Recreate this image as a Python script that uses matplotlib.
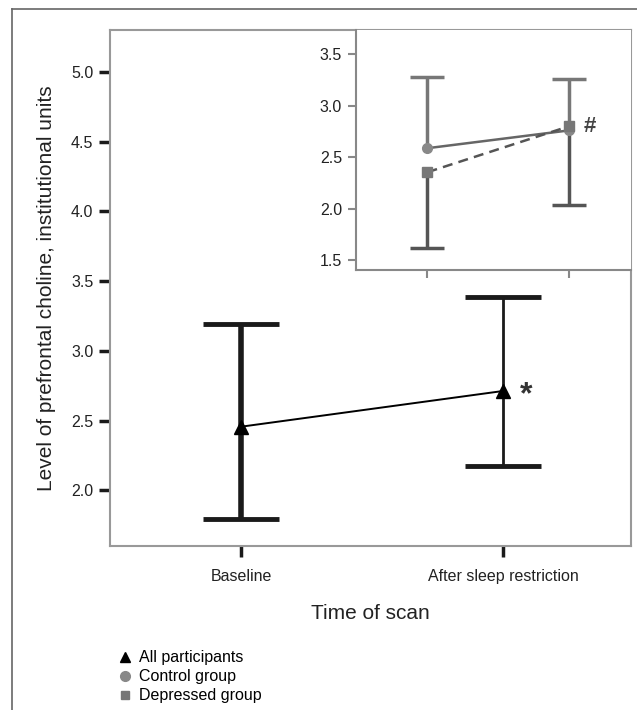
import numpy as np
import matplotlib.pyplot as plt
from matplotlib.lines import Line2D

plt.rcParams['font.family'] = ['Liberation Sans', 'DejaVu Sans']

# Datos
momentos = ["Baseline", "After sleep restriction"]
todos_media = [2.456, 2.712]
todos_inf = [1.796, 2.172]
todos_sup = [3.19, 3.386]

control_media = [2.587, 2.760]
control_sup = [3.275, 3.260]
depr_media = [2.354, 2.800]
depr_inf = [1.620, 2.035]

yticks_main = [2.0, 2.5, 3.0, 3.5, 4.0, 4.5, 5.0]
yticks_inset = [1.5, 2.0, 2.5, 3.0, 3.5]

fig = plt.figure(figsize=(6.37, 7.10), dpi=100)

# marco exterior
fig.add_artist(Line2D([12/637, 12/637], [0, 1 - 9/710], color='#666666', lw=1.2))
fig.add_artist(Line2D([12/637, 1], [1 - 9/710, 1 - 9/710], color='#666666', lw=1.2))

# eje principal
ax = fig.add_axes([110/637, 1 - 545.7/710, 521.3/637, 515.7/710])
x = np.arange(len(momentos))
ax.plot(x, todos_media, color='black', lw=1.4, zorder=3)
anchos = [4.0, 2.0]
for i in range(len(x)):
    ax.errorbar(x[i], todos_media[i],
                yerr=[[todos_media[i] - todos_inf[i]], [todos_sup[i] - todos_media[i]]],
                fmt='none', ecolor='#1a1a1a', elinewidth=anchos[i],
                capsize=27.5, capthick=3.5, zorder=2)
ax.plot(x, todos_media, marker='^', color='black', ms=10, lw=0, zorder=4)
ax.annotate('*', (x[1], todos_media[1]), xytext=(17, -3), textcoords='offset points',
            ha='center', va='center', fontsize=23, fontweight='bold', color='#333333')

ax.set_xlim(-0.5, 1.49)
ax.set_ylim(1.603, 5.30)
ax.set_xticks(x)
ax.set_xticklabels(momentos, fontsize=11.5, color='#222222')
ax.set_yticks(yticks_main)
ax.set_yticklabels([f"{v:.1f}" for v in yticks_main], fontsize=11.5, color='#222222')
ax.tick_params(axis='both', direction='out', length=8, width=2.5, color='#1a1a1a', pad=4)
ax.tick_params(axis='x', pad=9)
for s in ax.spines.values():
    s.set_color('#999999')
    s.set_linewidth(1.5)
ax.set_xlabel("Time of scan", fontsize=15, labelpad=14, color='#222222')
ax.set_ylabel("Level of prefrontal choline, institutional units", fontsize=15,
              labelpad=11, color='#222222')

# leyenda
handles = [
    Line2D([], [], marker='^', color='black', lw=0, ms=7),
    Line2D([], [], marker='o', color='#888888', lw=0, ms=7),
    Line2D([], [], marker='s', color='#777777', lw=0, ms=6),
]
fig.legend(handles, ["All participants", "Control group", "Depressed group"],
           loc='upper left', bbox_to_anchor=(112/637, 1 - 644/710), frameon=False,
           fontsize=11.5, handlelength=0.8, handletextpad=0.5, labelspacing=0.25,
           borderaxespad=0)

# grafico interno
ax2 = fig.add_axes([356/637, 1 - 270/710, 275.3/637, 240/710])
xi = np.arange(2)
eb_c = ax2.errorbar(xi, control_media,
                    yerr=[np.zeros(2), np.array(control_sup) - np.array(control_media)],
                    fmt='none', ecolor='#777777', elinewidth=2.5, capsize=12, capthick=2.5,
                    zorder=2)
eb_d = ax2.errorbar(xi, depr_media,
                    yerr=[np.array(depr_media) - np.array(depr_inf), np.zeros(2)],
                    fmt='none', ecolor='#555555', elinewidth=2.5, capsize=12, capthick=2.5,
                    zorder=2)
# solo un lado de la barra de error
eb_c[1][0].set_visible(False)
eb_d[1][1].set_visible(False)
ax2.plot(xi, control_media, color='#666666', lw=1.8, zorder=3)
ax2.plot(xi, depr_media, color='#555555', lw=1.8, ls=(0, (4, 2.5)), zorder=3)
ax2.plot(xi, control_media, marker='o', color='#888888', ms=7, lw=0, zorder=4)
ax2.plot(xi, depr_media, marker='s', color='#777777', ms=7, lw=0, zorder=4)
ax2.annotate('#', (xi[1], depr_media[1]), xytext=(15, 0), textcoords='offset points',
             ha='center', va='center', fontsize=16, fontweight='bold', color='#444444')

ax2.set_xlim(-0.505, 1.44)
ax2.set_ylim(1.403, 3.736)
ax2.set_xticks(xi)
ax2.set_xticklabels([])
ax2.set_yticks(yticks_inset)
ax2.set_yticklabels([f"{v:.1f}" for v in yticks_inset], fontsize=11.5, color='#222222')
ax2.tick_params(axis='both', direction='out', length=6, width=1.5, color='#888888', pad=4)
ax2.spines['top'].set_visible(False)
ax2.spines['right'].set_visible(False)
for s in ['left', 'bottom']:
    ax2.spines[s].set_color('#888888')
    ax2.spines[s].set_linewidth(1.5)

plt.savefig("out.png", dpi=100)
